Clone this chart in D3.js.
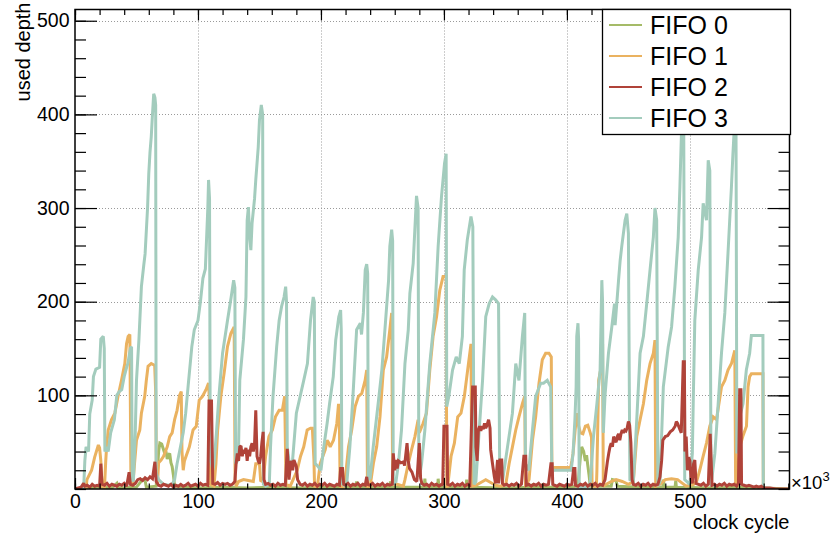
<!DOCTYPE html>
<html><head><meta charset="utf-8">
<script src="https://cdn.jsdelivr.net/npm/d3@7"></script>
<style>body{margin:0;background:#fff}svg{display:block}text{font-family:"Liberation Sans",Arial,Helvetica,sans-serif}</style>
</head><body><svg id="c" width="832" height="534"></svg>
<script>
// ---------- data (x in 10^3 clock cycles, y = used depth) ----------
const seriesNames = ["FIFO 0","FIFO 1","FIFO 2","FIFO 3"];
const seriesColors = ["#a5bb68","#eab260","#b04339","#a3ccbd"];
const xMajorTicks = [0,100,200,300,400,500];
const yMajorTicks = [100,200,300,400,500];
const xMax = 581, yMax = 512;

const fifo0 = [[0,0],[10,1],[20,2],[30,1],[34,6],[35,1],[50,2],[55,10],[57,9],[58,2],[66,3],[67,20],[68,40],[69,49],[70.5,48],[72,42],[73,38],[74,40],[75,32],[76,36],[77,38],[78,28],[79,24],[80,15],[81,3],[90,2],[100,1],[120,2],[140,1],[160,2],[180,1],[200,2],[228,2],[229,8],[230,2],[256,2],[256.5,8],[257,2],[284,2],[284.5,11],[285,2],[295,2],[295.3,11],[296,2],[318,2],[318.5,10],[319,2],[350,1],[372,2],[372.5,6],[373,2],[380,2],[380.5,6],[381,2],[400,2],[409,3],[410,20],[411,35],[412,45],[413.6,40],[415,30],[416,36],[417,25],[418,15],[419,3],[436,3],[437,10],[440,9],[441,3],[460,2],[478,2],[478.5,10],[479,2],[488,2],[488.5,9],[489,2],[520,1],[540,2],[560,1],[581,0]];

const fifo1 = [[0,0],[9,0],[9.7,10],[13.5,20],[16,34],[19,47],[20,44],[21,30],[22,3],[24,2],[25,30],[25.7,45],[27,63],[29.7,74],[32.4,81],[35,99],[37.8,116],[40.5,134],[41.9,155],[43.2,163],[44.6,165],[45.4,20],[46,3],[47.3,10],[50,52],[52.7,63],[54,81],[56.7,99],[58,116],[59.4,131],[62,134],[64.8,132],[65.6,104],[66.2,17],[67,5],[68,28],[70,31],[72,35],[75,45],[77,56],[79,60],[81,74],[83,84],[85,100],[86.4,104],[87,40],[88,20],[89,30],[93,45],[96,63],[98.6,67],[101,95],[103.7,99],[106.5,106],[108.6,113],[109.5,90],[110,5],[113,3],[114.6,27],[116,63],[118.6,99],[121.3,124],[124,152],[126.7,166],[129.4,173],[130.2,10],[131,3],[133,8],[137,10],[141,9],[145,8],[147,27],[150,27],[151,8],[153,10],[155,35],[157.7,56],[160.5,63],[163,77],[166,84],[168.6,84],[170.5,99],[171.6,5],[175,3],[180.7,20],[183.4,35],[186,45],[188.8,63],[191.5,65],[193,65],[194.3,31],[194.8,3],[197,2],[199.4,27],[203.5,42],[205,52],[206,50],[207.5,45],[210.2,52],[212.9,70],[214.3,91],[215,70],[215.6,3],[218,2],[219.7,10],[222.4,45],[225,63],[227.8,88],[230.5,99],[233.2,102],[235.9,116],[237.2,127],[237.8,3],[240,3],[242.6,27],[245.3,45],[248,77],[250.7,127],[253.4,141],[256,170],[257.5,188],[258.3,5],[262,5],[267,3],[268.3,10],[271,27],[273.7,42],[276.4,56],[279,74],[280,60],[283,70],[285.8,81],[288.5,127],[291.2,163],[294,184],[296.6,212],[299.3,227],[301.8,227],[302.3,3],[303,2],[305.8,35],[308.5,49],[311.2,77],[313.9,81],[316.6,99],[319.3,127],[322,155],[322.6,3],[326,4],[330,7],[334,10],[338,7],[342,4],[346,3],[350.3,5],[353,27],[355.7,45],[358.4,63],[361,77],[363.8,91],[365.7,99],[366.3,3],[369.2,10],[372,52],[374.6,77],[377.3,113],[380,138],[382.7,145],[385.4,145],[387.3,141],[387.8,23],[403,23],[404,30],[405,38],[406.5,60],[408,81],[409,70],[411,60],[413,59],[415,67],[417,68],[419,60],[420,55],[420.5,3],[424,3],[424.4,20],[425.8,116],[428,131],[429,155],[429.6,3],[432,5],[436,8],[440,10],[445,8],[450,5],[454,8],[456.8,56],[459.5,74],[462.2,91],[464.9,116],[467.6,134],[470.3,145],[471.6,159],[472.2,3],[475.7,5],[480,10],[485,11],[490,10],[494,6],[497,3],[503,5],[505.7,9],[508,20],[510.8,35],[513.5,49],[516.2,67],[518.9,77],[521.6,74],[525.7,109],[528.4,116],[531,127],[533.8,134],[536.5,148],[537.2,3],[538.5,5],[540,42],[543,56],[546,67],[547.3,109],[548.6,120],[550,123],[559.4,123],[559.7,0]];

const fifo2 = [[0,0],[2,1],[5,2],[7,6],[8,3],[10,4],[12,2],[14,5],[16,3],[18,4],[20,3],[21,27],[22,5],[24,4],[26,6],[28,3],[30,5],[32,4],[34,3],[36,5],[38,4],[40,6],[42,3],[44,18],[45,5],[47,4],[49,6],[51,10],[53,11],[55,9],[57,12],[59,10],[61,13],[63,11],[65,29],[66,8],[68,4],[70,3],[72,5],[74,4],[76,3],[78,5],[80,2],[82,4],[84,3],[86,5],[88,3],[90,4],[92,6],[94,3],[96,4],[98,5],[100,3],[102,6],[104,4],[106,5],[108,4],[109,94],[111,94],[112,6],[114,5],[116,7],[118,4],[120,6],[122,5],[124,6],[126,4],[128,5],[130,8],[131,27],[132,38],[133,30],[134,45],[135,46],[136,35],[137,42],[138,38],[139,44],[140,30],[141,42],[142,35],[143,45],[144,49],[145,40],[146,48],[147,84],[148,35],[149,30],[150,27],[151,35],[152,50],[153,61],[153.7,10],[155,5],[157,6],[159,4],[161,5],[163,3],[165,6],[167,4],[169,5],[171,4],[172.6,43],[174,10],[175.5,30],[177,20],[178,31],[180,24],[181,10],[183,5],[185,4],[187,6],[189,3],[191,5],[193,4],[195,6],[197,3],[199,5],[201,4],[203,6],[205,3],[207,5],[209,4],[211,3],[213,5],[215,4],[216,22],[217.5,22],[218.5,5],[220,4],[222,6],[224,3],[226,5],[228,4],[230,6],[232,3],[234,5],[236,4],[237.2,13],[238,5],[240,4],[242,6],[244,3],[246,5],[248,4],[250,6],[252,3],[254,5],[256,4],[258,5],[258.8,38],[260,20],[261,31],[262,22],[263,30],[265,28],[267,29],[268,25],[270,49],[271,30],[272,22],[274,18],[276,10],[278,8],[280,49],[281,12],[282,6],[284,4],[286,5],[288,3],[290,6],[292,4],[294,5],[296,3],[298,5],[299,4],[300,67],[302.5,67],[303,5],[305,4],[307,6],[309,3],[311,5],[313,4],[315,6],[317,3],[319,5],[321,4],[323.3,109],[325.5,109],[326,45],[327,30],[328,63],[329,67],[330,62],[331,67],[332,64],[333,70],[334,65],[335,68],[336.3,74],[337.5,65],[338,42],[339.5,27],[341,13],[342,6],[343.6,31],[344.5,6],[345.5,31],[347,31],[347.6,6],[349,4],[351,5],[353,3],[355,5],[357,4],[359,6],[361,3],[363,5],[365,35],[366.5,35],[367,4],[369,5],[371,3],[373,5],[375,4],[377,6],[379,3],[381,5],[383,4],[385,5],[387,27],[388,27],[388.5,5],[390,4],[392,3],[394,5],[396,4],[398,3],[400,5],[402,4],[404,5],[405.5,22],[406.5,22],[407,4],[409,3],[411,5],[413,4],[415,6],[417,3],[419,5],[421,4],[423,6],[425,3],[427,5],[429,4],[431,10],[432,20],[433,30],[434,38],[435,45],[436,49],[437,45],[438,56],[439,52],[440,50],[441,56],[442,59],[443,52],[444,59],[445,63],[446,60],[447,63],[448,62],[449,65],[450,72],[451,68],[452,50],[453,10],[454,5],[456,4],[458,6],[460,3],[462,5],[464,4],[466,6],[468,3],[470,5],[472,4],[474,5],[475.7,13],[477,30],[478,52],[480,56],[482,57],[484,61],[486,63],[488,67],[489,72],[490,70],[492,63],[493,60],[494.6,136],[495.5,136],[496,40],[497,56],[498,20],[499,34],[500,30],[501,10],[502,6],[503,27],[504,31],[505,6],[507,5],[509,4],[511,6],[513,3],[515,5],[516.5,59],[517.6,20],[518,4],[520,5],[522,3],[524,5],[526,4],[528,6],[530,3],[532,5],[534,4],[536,5],[538,3],[539.5,6],[540.5,106],[541.5,106],[542,5],[544,4],[546,3],[548,4],[550,3],[552,2],[554,3],[556,2],[558,3],[560,1],[565,1],[570,0],[581,0]];

const fifo3 = [[0,0],[7,0],[8,30],[9,45],[11,40],[12,80],[14,95],[15,120],[17,128],[20,130],[21,160],[23,163],[23.8,150],[24.3,40],[26,45],[27,40],[29,60],[32,74],[34,100],[36,104],[38,106],[40,120],[42,130],[43,134],[45,150],[46,152],[46.5,10],[47.5,8],[49,60],[50,116],[52,160],[54,216],[56,240],[57,251],[59,300],[60,337],[61,360],[62,376],[63,400],[64,422],[65,418],[65.6,410],[66,17],[68,10],[72,5],[76,4],[79,5],[81,10],[83,27],[85,40],[88,60],[90,81],[92,110],[95,152],[97,170],[100,180],[102,200],[104,225],[106,235],[108,300],[108.6,330],[109.4,310],[110,30],[111,27],[112,20],[113,27],[115,60],[117,99],[120,145],[124,180],[127,205],[129,223],[130,215],[130.6,27],[132,30],[133,45],[134,116],[137,160],[139,205],[140,287],[141,301],[142,270],[143,255],[144,284],[146,310],[147,330],[149,365],[150,394],[151.5,410],[152.6,400],[153.2,5],[155,3],[158,5],[159,45],[161,99],[164,152],[166,180],[168,195],[170,205],[171.3,216],[172,200],[172.6,45],[174,30],[176.7,27],[180,81],[186,116],[189,134],[191.5,180],[193.7,205],[194.6,200],[195.3,27],[197,25],[200,20],[202,42],[205,70],[207,91],[210,120],[212,159],[214.5,184],[216,191],[216.5,170],[217,6],[219,4],[221,6],[223.5,45],[226,99],[229,170],[232,177],[233,165],[234.5,188],[236,234],[237.2,240],[238,230],[238.5,10],[240,12],[242.5,45],[246.5,91],[249.5,127],[252,170],[255,223],[256,259],[257.5,277],[258.3,265],[258.8,5],[261,8],[263,27],[265.5,63],[268.3,134],[271,170],[272.3,209],[275,241],[277.7,313],[279,300],[279.6,13],[281,20],[281.8,27],[284.5,63],[288.5,134],[292.6,188],[295.3,259],[298,312],[300.5,348],[301.8,358],[302.3,88],[304,99],[307,127],[310,141],[312.5,134],[315,163],[316.5,234],[319,266],[322,291],[323.5,280],[324.5,5],[326,8],[328.7,63],[331.4,116],[334,184],[336.8,198],[339.5,205],[342,202],[344.4,198],[345.3,27],[347.6,8],[351.7,45],[355.7,81],[358.4,134],[361,116],[363.8,163],[365.7,188],[366.3,27],[369,20],[372,63],[374.6,99],[378.7,113],[381,113],[384,116],[386.8,109],[387.8,17],[389,20],[403.5,20],[405,38],[406.5,74],[407.5,109],[408,163],[409,177],[409.5,160],[410,3],[412,2],[418,3],[419,8],[421.6,56],[424.4,91],[427,127],[428.4,223],[429,200],[429.6,60],[431,100],[433.8,145],[436.5,173],[438.7,198],[439.2,175],[442,223],[443.3,244],[444.6,259],[447.3,287],[448.7,294],[450,273],[451.2,10],[454,8],[456.8,74],[459.5,145],[462.2,163],[464.9,198],[467.6,234],[470.3,269],[471.6,300],[473,287],[474,3],[475.7,8],[478.4,109],[482.4,152],[485.1,173],[487.8,216],[490.5,269],[491.9,323],[493.2,383],[494,400],[495,390],[495.8,10],[500,5],[502,38],[502.7,91],[504,180],[506.8,234],[509.5,269],[510.8,305],[513.5,287],[514.9,351],[516.2,340],[517.2,3],[520.3,38],[523,91],[525.7,145],[528.4,188],[531,252],[533.8,323],[535,358],[536.5,395],[537.5,390],[538.2,38],[540,74],[543.2,91],[545.9,127],[548.6,145],[550,164],[559.4,164],[559.7,0]];

const seriesData = [fifo0, fifo1, fifo2, fifo3];
const drawOrder = [0, 1, 3, 2];

// ---------- layout ----------
const L = 75, R = 789.5, T = 9.5, B = 489;
const svg = d3.select("#c");
const x = d3.scaleLinear().domain([0, xMax]).range([L, R]);
const y = d3.scaleLinear().domain([0, yMax]).range([B, T]);

svg.append("rect").attr("width", 832).attr("height", 534).attr("fill", "#fff");

// grid
const grid = svg.append("g").attr("stroke", "#9a9a9a").attr("stroke-width", 1).attr("stroke-dasharray", "1,2");
grid.selectAll(".gx").data(xMajorTicks.filter(d => d > 0)).join("line")
  .attr("x1", d => Math.round(x(d)) + 0.5).attr("x2", d => Math.round(x(d)) + 0.5)
  .attr("y1", T).attr("y2", B);
grid.selectAll(".gy").data(yMajorTicks).join("line")
  .attr("y1", d => Math.round(y(d)) + 0.5).attr("y2", d => Math.round(y(d)) + 0.5)
  .attr("x1", L).attr("x2", R);

// clip
svg.append("clipPath").attr("id", "clip").append("rect")
  .attr("x", L).attr("y", T).attr("width", R - L).attr("height", B - T);

const line = d3.line().x(d => x(d[0])).y(d => y(d[1]));
const gl = svg.append("g").attr("clip-path", "url(#clip)");
drawOrder.forEach(i => {
  gl.append("path").datum(seriesData[i]).attr("d", line)
    .attr("fill", "none").attr("stroke", seriesColors[i])
    .attr("stroke-width", 3).attr("stroke-linejoin", "miter").attr("stroke-miterlimit", 2);
});

// axes (ROOT style: ticks inward on all four sides)
const axStyle = g => { g.select(".domain").remove(); g.selectAll("line").attr("stroke", "#000").attr("stroke-width", 1.2); };
const tickFont = g => g.selectAll("text").attr("font-size", "19.5px").attr("fill", "#000").style("font-family", '"Liberation Sans",Arial,sans-serif');
const xMinor = d3.range(0, xMax, 20);
const yMinor = d3.range(0, yMax, 20);

svg.append("g").attr("transform", `translate(0,${B})`)
  .call(d3.axisBottom(x).tickValues(xMinor).tickSize(-5.5).tickFormat(""))
  .call(axStyle);
svg.append("g").attr("transform", `translate(0,${B})`)
  .call(d3.axisBottom(x).tickValues(xMajorTicks).tickSize(-11).tickPadding(5.5).tickFormat(d3.format("d")))
  .call(axStyle).call(tickFont);
svg.append("g").attr("transform", `translate(0,${T})`)
  .call(d3.axisTop(x).tickValues(xMinor).tickSize(-5.5).tickFormat(""))
  .call(axStyle);
svg.append("g").attr("transform", `translate(0,${T})`)
  .call(d3.axisTop(x).tickValues(xMajorTicks).tickSize(-11).tickFormat(""))
  .call(axStyle);
svg.append("g").attr("transform", `translate(${L},0)`)
  .call(d3.axisLeft(y).tickValues(yMinor).tickSize(-11).tickFormat(""))
  .call(axStyle);
svg.append("g").attr("transform", `translate(${L},0)`)
  .call(d3.axisLeft(y).tickValues(yMajorTicks).tickSize(-22).tickPadding(5.5).tickFormat(d3.format("d")))
  .call(axStyle).call(tickFont);
svg.append("g").attr("transform", `translate(${R},0)`)
  .call(d3.axisRight(y).tickValues(yMinor).tickSize(-11).tickFormat(""))
  .call(axStyle);
svg.append("g").attr("transform", `translate(${R},0)`)
  .call(d3.axisRight(y).tickValues(yMajorTicks).tickSize(-22).tickFormat(""))
  .call(axStyle);

// frame
svg.append("rect").attr("x", L).attr("y", T).attr("width", R - L).attr("height", B - T)
  .attr("fill", "none").attr("stroke", "#000").attr("stroke-width", 1.5);

// axis titles
svg.append("text").attr("x", R).attr("y", 529).attr("text-anchor", "end")
  .attr("font-size", "20px").text("clock cycle");
svg.append("text").attr("transform", "translate(29.5,2.5) rotate(-90)").attr("text-anchor", "end")
  .attr("font-size", "20px").text("used depth");
const mult = svg.append("text").attr("x", 791).attr("y", 488.5).attr("font-size", "18.5px");
mult.append("tspan").text("×10");
mult.append("tspan").attr("font-size", "13px").attr("dy", -8).text("3");

// legend
const lg = svg.append("g");
lg.append("rect").attr("x", 602.5).attr("y", 9.5).attr("width", 188).attr("height", 125)
  .attr("fill", "#fff").attr("stroke", "#000").attr("stroke-width", 1.3);
seriesNames.forEach((n, i) => {
  const yy = 25 + i * 31;
  lg.append("line").attr("x1", 609).attr("x2", 642).attr("y1", yy).attr("y2", yy)
    .attr("stroke", seriesColors[i]).attr("stroke-width", 2.2);
  lg.append("text").attr("x", 650).attr("y", yy).attr("dy", "0.35em")
    .attr("font-size", "25px").text(n);
});
</script></body></html>
